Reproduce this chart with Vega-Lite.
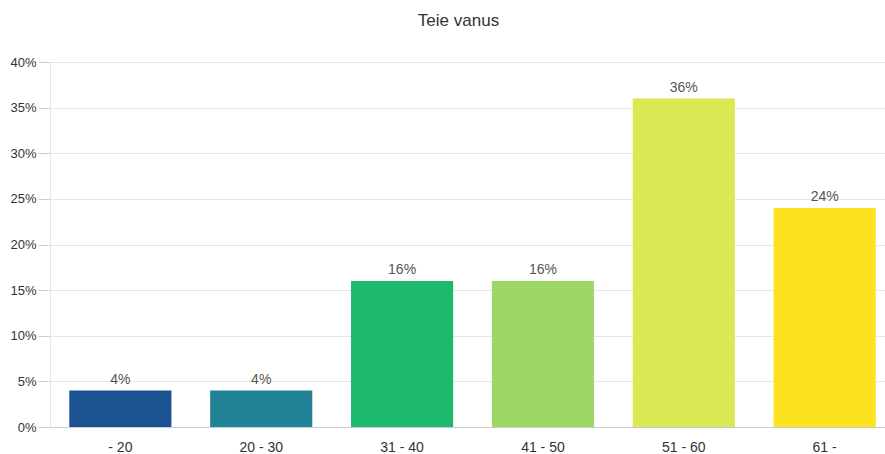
{
  "$schema": "https://vega.github.io/schema/vega-lite/v6.json",
  "width": 835,
  "height": 365,
  "autosize": {"type": "none"},
  "padding": {"left": 50, "top": 62, "right": 0, "bottom": 27},
  "background": "white",
  "title": {
    "text": "Teie vanus",
    "font": "Liberation Sans",
    "fontSize": 17,
    "fontWeight": "normal",
    "color": "#333333",
    "anchor": "middle",
    "dx": -9,
    "offset": 26
  },
  "data": {
    "values": [
      {"group": "- 20", "share": 0.04, "color": "#1b5292"},
      {"group": "20 - 30", "share": 0.04, "color": "#238396"},
      {"group": "31 - 40", "share": 0.16, "color": "#1dba6e"},
      {"group": "41 - 50", "share": 0.16, "color": "#9dd866"},
      {"group": "51 - 60", "share": 0.36, "color": "#d9e853"},
      {"group": "61 -", "share": 0.24, "color": "#fde21f"}
    ]
  },
  "config": {
    "view": {"stroke": null},
    "font": "Liberation Sans"
  },
  "encoding": {
    "x": {
      "field": "group",
      "type": "nominal",
      "sort": null,
      "scale": {"paddingInner": 0.275, "paddingOuter": 0.1015, "align": 0.675},
      "axis": {
        "title": null,
        "labelAngle": 0,
        "labelFontSize": 14,
        "labelColor": "#333333",
        "labelPadding": 13,
        "domainColor": "#cccccc",
        "ticks": false,
        "grid": false
      }
    },
    "y": {
      "field": "share",
      "type": "quantitative",
      "scale": {"domain": [0, 0.4]},
      "axis": {
        "title": null,
        "format": ".0%",
        "values": [0, 0.05, 0.1, 0.15, 0.2, 0.25, 0.3, 0.35, 0.4],
        "labelFontSize": 13,
        "labelColor": "#333333",
        "labelPadding": 2,
        "tickColor": "#cccccc",
        "tickSize": 12,
        "domainColor": "#e6e6e6",
        "gridColor": "#e6e6e6"
      }
    }
  },
  "layer": [
    {
      "mark": {"type": "bar"},
      "encoding": {
        "color": {"field": "color", "type": "nominal", "scale": null, "legend": null}
      }
    },
    {
      "mark": {"type": "text", "baseline": "bottom", "dy": -4, "fontSize": 14, "color": "#555555"},
      "encoding": {
        "text": {"field": "share", "type": "quantitative", "format": ".0%"}
      }
    }
  ]
}
